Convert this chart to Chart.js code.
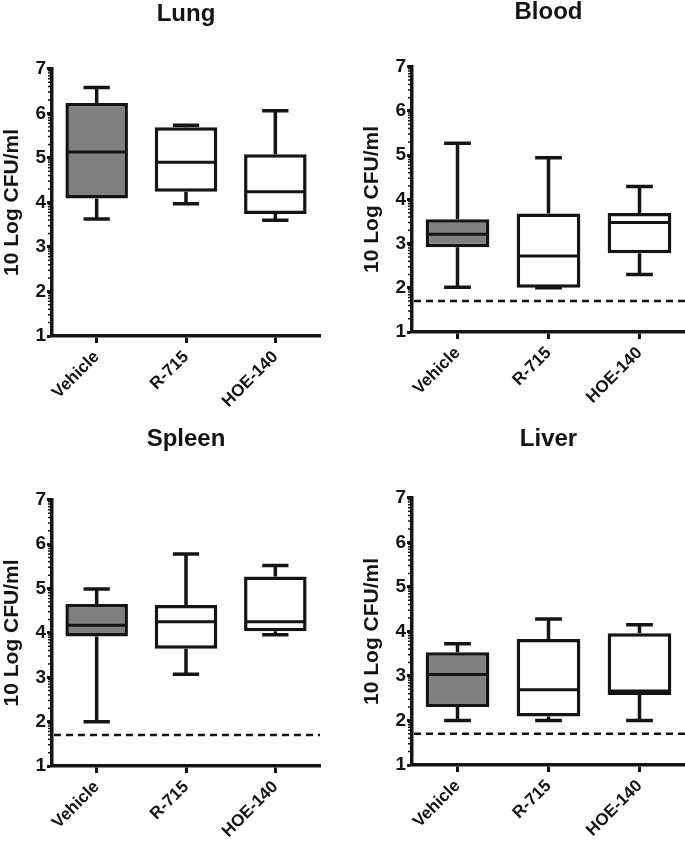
<!DOCTYPE html>
<html>
<head>
<meta charset="utf-8">
<script src="https://cdn.jsdelivr.net/npm/chart.js@4.4.1/dist/chart.umd.min.js"></script>
<style>
  html, body { margin: 0; padding: 0; background: #ffffff; }
  body { width: 685px; height: 844px; position: relative; overflow: hidden; }
  .panel { position: absolute; }
</style>
</head>
<body>
<div class="panel" style="left:0px;top:0px;width:340px;height:420px;"><canvas id="lung" width="340" height="420"></canvas></div>
<div class="panel" style="left:360px;top:-2px;width:325px;height:420px;"><canvas id="blood" width="325" height="420"></canvas></div>
<div class="panel" style="left:0px;top:425px;width:340px;height:419px;"><canvas id="spleen" width="340" height="419"></canvas></div>
<div class="panel" style="left:360px;top:425px;width:325px;height:419px;"><canvas id="liver" width="325" height="419"></canvas></div>
<script>
// ---- data ----
const categories = ['Vehicle', 'R-715', 'HOE-140'];
const yTicks = [1, 2, 3, 4, 5, 6, 7];
const boxFills = ['#808080', '#ffffff', '#ffffff'];
const detectionLimit = 1.7;

const lungMin    = [3.63, 3.97, 3.60];
const lungQ1     = [4.09, 4.24, 3.74];
const lungMedian = [5.13, 4.90, 4.24];
const lungQ3     = [6.23, 5.69, 5.08];
const lungMax    = [6.58, 5.73, 6.06];

const bloodMin    = [2.01, 2.00, 2.30];
const bloodQ1     = [2.92, 2.00, 2.78];
const bloodMedian = [3.21, 2.72, 3.48];
const bloodQ3     = [3.55, 3.68, 3.69];
const bloodMax    = [5.27, 4.94, 4.29];

const spleenMin    = [2.00, 3.07, 3.96];
const spleenQ1     = [3.92, 3.64, 4.04];
const spleenMedian = [4.17, 4.25, 4.25];
const spleenQ3     = [4.65, 4.63, 5.27];
const spleenMax    = [4.99, 5.78, 5.52];

const liverMin    = [2.00, 2.00, 2.00];
const liverQ1     = [2.30, 2.09, 2.57];
const liverMedian = [3.03, 2.69, 2.66];
const liverQ3     = [3.53, 3.83, 3.96];
const liverMax    = [3.72, 4.28, 4.15];

// ---- drawing ----
const INK = '#141414';
const FONT = "'Liberation Sans', Arial, sans-serif";
const LW = 3.5;

const boxPlugin = {
  id: 'boxExtras',
  afterDatasetsDraw(chart) {
    const o = chart.options.plugins.boxExtras;
    const ctx = chart.ctx;
    const xs = chart.scales.x, ys = chart.scales.y;
    const area = chart.chartArea;
    const meta = chart.getDatasetMeta(0);
    ctx.save();
    // detection-limit dashed line
    if (o.lod !== null) {
      const yl = ys.getPixelForValue(o.lod);
      ctx.strokeStyle = INK;
      ctx.lineWidth = 2.5;
      ctx.setLineDash([7, 5]);
      ctx.beginPath();
      ctx.moveTo(area.left + 2, yl);
      ctx.lineTo(area.right, yl);
      ctx.stroke();
      ctx.setLineDash([]);
    }
    ctx.strokeStyle = INK;
    ctx.lineWidth = LW;
    ctx.lineCap = 'butt';
    for (let i = 0; i < categories.length; i++) {
      const x = xs.getPixelForValue(i);
      const w = meta.data[i].width;
      const cap = w * 0.42;
      const yMin = ys.getPixelForValue(o.min[i]);
      const yQ1 = ys.getPixelForValue(o.q1[i]);
      const yMed = ys.getPixelForValue(o.median[i]);
      const yQ3 = ys.getPixelForValue(o.q3[i]);
      const yMax = ys.getPixelForValue(o.max[i]);
      ctx.beginPath();
      ctx.moveTo(x, yQ1); ctx.lineTo(x, yMin);
      ctx.moveTo(x - cap / 2, yMin); ctx.lineTo(x + cap / 2, yMin);
      ctx.moveTo(x, yQ3); ctx.lineTo(x, yMax);
      ctx.moveTo(x - cap / 2, yMax); ctx.lineTo(x + cap / 2, yMax);
      ctx.stroke();
      ctx.lineWidth = 3;
      ctx.beginPath();
      ctx.moveTo(x - w / 2 + 2, yMed); ctx.lineTo(x + w / 2 - 2, yMed);
      ctx.stroke();
      ctx.lineWidth = LW;
    }
    // minor log ticks on y axis
    ctx.lineWidth = 1.5;
    ctx.beginPath();
    for (let n = yTicks[0]; n < yTicks[yTicks.length - 1]; n++) {
      for (let m = 2; m <= 9; m++) {
        const yy = ys.getPixelForValue(n + Math.log10(m));
        ctx.moveTo(area.left - 4, yy);
        ctx.lineTo(area.left, yy);
      }
    }
    ctx.stroke();
    ctx.restore();
  }
};

function makeChart(id, title, mins, q1s, meds, q3s, maxs, lod, geo) {
  const ctx = document.getElementById(id);
  return new Chart(ctx, {
    type: 'bar',
    data: {
      labels: categories,
      datasets: [{
        data: categories.map((c, i) => [q1s[i], q3s[i]]),
        backgroundColor: boxFills,
        borderColor: INK,
        borderWidth: LW,
        borderSkipped: false,
        barPercentage: 0.7,
        categoryPercentage: 1.0
      }]
    },
    options: {
      responsive: false,
      animation: false,
      layout: { padding: { left: 0, right: geo.padRight, top: 0, bottom: 0 } },
      plugins: {
        legend: { display: false },
        tooltip: { enabled: false },
        title: {
          display: true,
          text: title,
          color: INK,
          fullSize: false,
          font: { family: FONT, size: 24, weight: 'bold', lineHeight: 1.2 },
          padding: { top: 0, bottom: geo.titleGap }
        },
        boxExtras: { min: mins, q1: q1s, median: meds, q3: q3s, max: maxs, lod: lod }
      },
      scales: {
        x: {
          type: 'category',
          offset: true,
          grid: { offset: false, drawOnChartArea: false, drawTicks: true, tickLength: 7, tickWidth: 3, tickColor: INK },
          border: { display: true, width: LW, color: INK },
          ticks: {
            color: INK, autoSkip: false, minRotation: 45, maxRotation: 45, padding: 4,
            font: { family: FONT, size: 17, weight: 'bold' }
          },
          afterFit: (s) => { s.height = geo.xHeight; }
        },
        y: {
          min: yTicks[0],
          max: yTicks[yTicks.length - 1],
          grid: { drawOnChartArea: false, drawTicks: true, tickLength: 5, tickWidth: 3, tickColor: INK },
          border: { display: true, width: LW, color: INK },
          ticks: {
            stepSize: 1, color: INK, padding: 1,
            font: { family: FONT, size: 19, weight: 'bold' }
          },
          title: {
            display: true, text: '10 Log CFU/ml', color: INK, padding: { top: 0, bottom: 0 },
            font: { family: FONT, size: 21, weight: 'bold', lineHeight: 1.2 }
          },
          afterFit: (s) => { s.width = 52; }
        }
      }
    },
    plugins: [boxPlugin]
  });
}

makeChart('lung', 'Lung', lungMin, lungQ1, lungMedian, lungQ3, lungMax, null,
  { padRight: 20, titleGap: 40, xHeight: 84 });
makeChart('blood', 'Blood', bloodMin, bloodQ1, bloodMedian, bloodQ3, bloodMax, detectionLimit,
  { padRight: 0, titleGap: 40, xHeight: 86 });
makeChart('spleen', 'Spleen', spleenMin, spleenQ1, spleenMedian, spleenQ3, spleenMax, detectionLimit,
  { padRight: 20, titleGap: 46, xHeight: 78 });
makeChart('liver', 'Liver', liverMin, liverQ1, liverMedian, liverQ3, liverMax, detectionLimit,
  { padRight: 0, titleGap: 44, xHeight: 79 });
</script>
</body>
</html>
